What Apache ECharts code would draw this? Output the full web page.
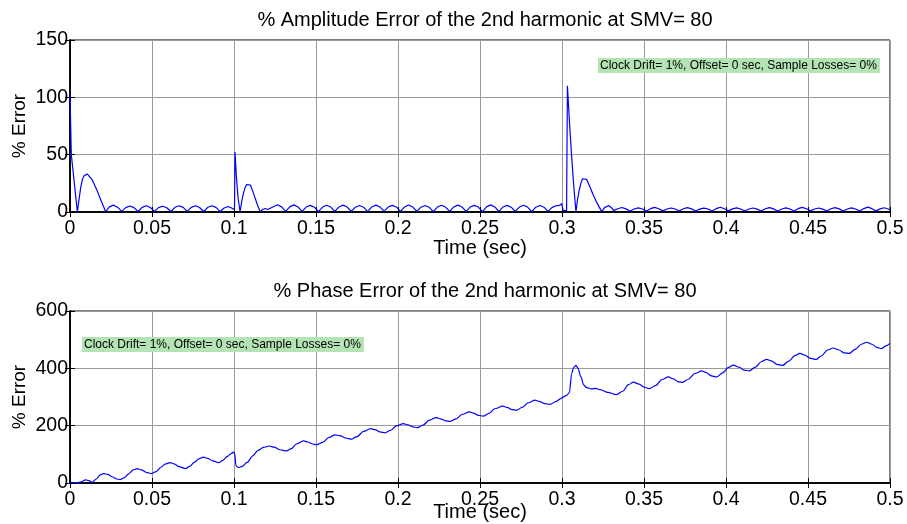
<!DOCTYPE html>
<html>
<head>
<meta charset="utf-8">
<script src="https://cdn.jsdelivr.net/npm/echarts@6/dist/echarts.min.js"></script>
<style>
  html, body { margin: 0; padding: 0; background: #fff; }
  #chart { width: 907px; height: 524px; }
</style>
</head>
<body>
<div id="chart"></div>
<script>
// Time ticks shared by both panels (seconds)
const timeTicks = [0, 0.05, 0.1, 0.15, 0.2, 0.25, 0.3, 0.35, 0.4, 0.45, 0.5];
const ampTicks = [0, 50, 100, 150];
const phaseTicks = [0, 200, 400, 600];

const titles = [
  '% Amplitude Error of the 2nd harmonic at SMV= 80',
  '% Phase Error of the 2nd harmonic at SMV= 80'
];
const xLabel = 'Time (sec)';
const yLabel = '% Error';
const note = 'Clock Drift= 1%, Offset= 0 sec, Sample Losses= 0%';

// % amplitude error of the 2nd harmonic, [time (s), error (%)]
const amplitudeError = [
  [0, 103], [0.0008, 50], [0.0045, 0], [0.0055, 11], [0.0065, 21], [0.0075, 28], [0.0085, 31.5],
  [0.0095, 33], [0.0105, 33.2], [0.0115, 32], [0.0136, 28], [0.0167, 18], [0.0191, 9.3], [0.0218, 0.3],
  [0.0240, 4.5], [0.0264, 6], [0.0290, 4.2], [0.0315, 0.5],
  [0.034, 3.8], [0.0365, 5.2], [0.039, 3.8], [0.0415, 0.4],
  [0.044, 4], [0.0465, 5.4], [0.049, 3.9], [0.0515, 0.5],
  [0.054, 3.8], [0.0565, 5], [0.059, 3.7], [0.0615, 0.4],
  [0.064, 4.1], [0.0665, 5.5], [0.069, 4], [0.0715, 0.5],
  [0.074, 4], [0.0765, 5.4], [0.079, 3.9], [0.0815, 0.4],
  [0.084, 4.1], [0.0865, 5.5], [0.089, 4], [0.0915, 0.5],
  [0.094, 3.5], [0.0965, 4.8], [0.0985, 3.5], [0.0995, 2.2], [0.1003, 2],
  [0.1006, 52.4], [0.1015, 30], [0.1025, 12], [0.1037, 0.2],
  [0.1047, 9], [0.1057, 16], [0.1067, 21], [0.1077, 24], [0.1088, 25.3], [0.1100, 23.5],
  [0.1115, 18], [0.1130, 11.5], [0.1145, 5.5], [0.1159, 0.3],
  [0.1175, 2.2], [0.119, 3], [0.1205, 2.2], [0.1215, 0.6],
  [0.124, 4.6], [0.1265, 6.3], [0.129, 4.5], [0.1315, 0.5],
  [0.134, 4.5], [0.1365, 6.2], [0.139, 4.4], [0.1415, 0.5],
  [0.144, 4.3], [0.1465, 5.8], [0.149, 4.2], [0.1515, 0.4],
  [0.154, 4.3], [0.1565, 5.9], [0.159, 4.3], [0.1615, 0.5],
  [0.164, 4.4], [0.1665, 6], [0.169, 4.3], [0.1715, 0.5],
  [0.174, 4.2], [0.1765, 5.7], [0.179, 4.2], [0.1815, 0.4],
  [0.184, 4.4], [0.1865, 6], [0.189, 4.4], [0.1915, 0.5],
  [0.194, 4.3], [0.1965, 5.8], [0.199, 4.4], [0.2015, 0.5],
  [0.204, 4.4], [0.2065, 6.1], [0.209, 4.3], [0.2115, 0.5],
  [0.214, 4.2], [0.2165, 5.7], [0.219, 4.2], [0.2215, 0.4],
  [0.224, 4.3], [0.2265, 5.9], [0.229, 4.3], [0.2315, 0.5],
  [0.234, 4.4], [0.2365, 6], [0.239, 4.4], [0.2415, 0.5],
  [0.244, 4.3], [0.2465, 5.8], [0.249, 4.3], [0.2515, 0.4],
  [0.254, 4.5], [0.2565, 6.2], [0.259, 4.4], [0.2615, 0.5],
  [0.264, 4.3], [0.2665, 5.8], [0.269, 4.2], [0.2715, 0.5],
  [0.274, 4.3], [0.2765, 5.9], [0.279, 4.3], [0.2815, 0.4],
  [0.284, 4.2], [0.2865, 5.7], [0.289, 4.2], [0.2915, 0.5],
  [0.294, 4], [0.2965, 5.5], [0.2985, 5.8], [0.2998, 7.2], [0.3007, 1.5], [0.3028, 1.2],
  [0.3033, 110], [0.3045, 80], [0.3058, 50], [0.3072, 22], [0.3085, 0.3],
  [0.3095, 11], [0.3105, 19], [0.3115, 25], [0.3125, 29], [0.3136, 30.6], [0.3150, 28.5],
  [0.3170, 22], [0.3190, 15], [0.3215, 7.5], [0.3242, 0.3],
  [0.326, 3.8], [0.3285, 5.6], [0.3305, 3.2], [0.3315, 1.2],
  [0.334, 2.8], [0.3365, 3.9], [0.339, 2.7], [0.3415, 0.9],
  [0.344, 2.6], [0.3465, 3.6], [0.349, 2.6], [0.3515, 0.8],
  [0.354, 2.9], [0.3565, 4], [0.359, 2.8], [0.3615, 1],
  [0.364, 2.6], [0.3665, 3.5], [0.369, 2.6], [0.3715, 0.8],
  [0.374, 2.8], [0.3765, 3.8], [0.379, 2.7], [0.3815, 0.9],
  [0.384, 2.5], [0.3865, 3.4], [0.389, 2.6], [0.3915, 0.8],
  [0.394, 2.9], [0.3965, 4.1], [0.399, 2.8], [0.4015, 1],
  [0.404, 2.7], [0.4065, 3.6], [0.409, 2.6], [0.4115, 0.9],
  [0.414, 2.6], [0.4165, 3.5], [0.419, 2.5], [0.4215, 0.8],
  [0.424, 2.8], [0.4265, 3.8], [0.429, 2.7], [0.4315, 0.9],
  [0.434, 2.6], [0.4365, 3.6], [0.439, 2.6], [0.4415, 0.8],
  [0.444, 2.9], [0.4465, 4], [0.449, 2.8], [0.4515, 1],
  [0.454, 2.6], [0.4565, 3.5], [0.459, 2.5], [0.4615, 0.8],
  [0.464, 2.8], [0.4665, 3.8], [0.469, 2.7], [0.4715, 0.9],
  [0.474, 2.6], [0.4765, 3.6], [0.479, 2.6], [0.4815, 0.8],
  [0.484, 3], [0.4865, 4.2], [0.489, 2.9], [0.4915, 1],
  [0.494, 2.7], [0.4965, 3.7], [0.499, 2.6], [0.5, 1.8]
];

// % phase error of the 2nd harmonic, [time (s), error (%)]
const phaseError = [
  [0, 2], [0.004, 1], [0.007, 4], [0.0095, 11], [0.0115, 8], [0.0135, 2], [0.016, 14],
  [0.0185, 28], [0.0205, 33], [0.023, 30], [0.026, 21], [0.0285, 14], [0.0305, 12],
  [0.033, 18], [0.036, 33], [0.0385, 46], [0.041, 50], [0.0435, 46], [0.0465, 37], [0.0498, 33],
  [0.0525, 40], [0.0555, 55], [0.058, 66], [0.061, 71], [0.0635, 67], [0.0665, 57], [0.0705, 50],
  [0.073, 58], [0.076, 73], [0.0785, 84], [0.0813, 90], [0.084, 86], [0.087, 77], [0.0905, 71],
  [0.093, 78], [0.096, 93], [0.0985, 103], [0.0998, 108], [0.1004, 104], [0.1012, 60], [0.1027, 54],
  [0.105, 58], [0.108, 72], [0.1115, 95], [0.1145, 113], [0.118, 124], [0.1215, 129], [0.1245, 125],
  [0.128, 116], [0.132, 112], [0.135, 120], [0.138, 136], [0.1423, 147], [0.145, 143], [0.148, 136],
  [0.1505, 134], [0.154, 142], [0.158, 159], [0.1616, 168], [0.1645, 165], [0.168, 157], [0.1718, 153],
  [0.175, 162], [0.179, 180], [0.1833, 190], [0.186, 186], [0.189, 178], [0.192, 175], [0.1955, 184],
  [0.199, 199], [0.2033, 207], [0.206, 203], [0.209, 196], [0.2118, 193], [0.2155, 203], [0.219, 219],
  [0.2232, 228], [0.226, 224], [0.229, 217], [0.232, 215], [0.2355, 224], [0.239, 239], [0.2435, 248],
  [0.246, 244], [0.249, 236], [0.252, 233], [0.2555, 243], [0.259, 259], [0.2638, 268], [0.2665, 264],
  [0.2695, 256], [0.2723, 254], [0.276, 265], [0.2795, 280], [0.2835, 289], [0.286, 285], [0.2895, 277],
  [0.2927, 274], [0.2965, 285], [0.3, 297], [0.3028, 306], [0.3045, 315], [0.3059, 382], [0.3072, 404],
  [0.3085, 410], [0.3098, 400], [0.3115, 370], [0.3132, 342], [0.315, 333], [0.318, 328], [0.3205, 330],
  [0.3232, 326], [0.328, 316], [0.333, 308], [0.337, 320], [0.3405, 343], [0.3435, 352], [0.347, 345],
  [0.3503, 334], [0.3533, 329], [0.357, 340], [0.361, 361], [0.3648, 370], [0.368, 363], [0.371, 353],
  [0.3735, 351], [0.377, 362], [0.381, 382], [0.3852, 391], [0.388, 385], [0.391, 374], [0.3943, 370],
  [0.398, 384], [0.4015, 403], [0.4045, 411], [0.408, 404], [0.411, 394], [0.4142, 391], [0.418, 404],
  [0.4215, 423], [0.4248, 431], [0.428, 425], [0.431, 414], [0.4345, 410], [0.438, 424], [0.442, 444],
  [0.4451, 452], [0.448, 446], [0.4515, 435], [0.4549, 431], [0.458, 443], [0.462, 464], [0.4654, 471],
  [0.469, 464], [0.472, 454], [0.4752, 452], [0.479, 467], [0.4825, 484], [0.4858, 491], [0.489, 484],
  [0.492, 473], [0.4949, 469], [0.4975, 478], [0.5, 487]
];

const FONT = 'Liberation Sans, Arial, sans-serif';
const chart = echarts.init(document.getElementById('chart'), null, { renderer: 'canvas' });

const panels = [
  { top: 40, ticks: ampTicks, nameGap: 26, titleTop: 5 },
  { top: 311, ticks: phaseTicks, nameGap: 19, titleTop: 276 }
];
const plotLeft = 70, plotWidth = 820, plotHeight = 172;

function fmtTime(v) {
  return String(parseFloat(v.toFixed(2)));
}

const grids = [], xAxes = [], yAxes = [];
panels.forEach((p, i) => {
  grids.push({
    left: plotLeft, top: p.top, width: plotWidth, height: plotHeight,
    outerBoundsMode: 'none', containLabel: false,
    show: true, borderColor: '#000', borderWidth: 1, backgroundColor: '#fff'
  });
  const yMax = p.ticks[p.ticks.length - 1];
  const yStep = p.ticks[1] - p.ticks[0];
  // bottom time axis with labels and grid lines
  xAxes.push({
    type: 'value', gridIndex: i, min: timeTicks[0], max: timeTicks[timeTicks.length - 1],
    interval: timeTicks[1] - timeTicks[0],
    position: 'bottom',
    name: xLabel, nameLocation: 'middle', nameGap: p.nameGap, nameMoveOverlap: false,
    nameTextStyle: { fontFamily: FONT, fontSize: 20, color: '#000' },
    axisLine: { show: true, lineStyle: { color: '#000', width: 1.5 } },
    axisTick: { show: true, inside: true, length: 5, lineStyle: { color: '#000' } },
    axisLabel: { fontFamily: FONT, fontSize: 19.5, color: '#000', margin: 7, formatter: fmtTime },
    splitLine: { show: true, lineStyle: { color: '#9a9a9a', width: 1 } }
  });
  // top time axis: ticks only
  xAxes.push({
    type: 'value', gridIndex: i, min: timeTicks[0], max: timeTicks[timeTicks.length - 1],
    interval: timeTicks[1] - timeTicks[0],
    position: 'top',
    axisLine: { show: true, lineStyle: { color: '#000', width: 1.5 } },
    axisTick: { show: true, inside: true, length: 5, lineStyle: { color: '#000' } },
    axisLabel: { show: false }, splitLine: { show: false }
  });
  // left error axis with labels and grid lines
  yAxes.push({
    type: 'value', gridIndex: i, min: 0, max: yMax, interval: yStep,
    position: 'left',
    name: yLabel, nameLocation: 'middle', nameGap: 41, nameRotate: 90, nameMoveOverlap: false,
    nameTextStyle: { fontFamily: FONT, fontSize: 19, color: '#000' },
    axisLine: { show: true, lineStyle: { color: '#000', width: 1.5 } },
    axisTick: { show: true, inside: true, length: 5, lineStyle: { color: '#000' } },
    axisLabel: { fontFamily: FONT, fontSize: 19.5, color: '#000', margin: 2 },
    splitLine: { show: true, lineStyle: { color: '#9a9a9a', width: 1 } }
  });
  // right error axis: ticks only
  yAxes.push({
    type: 'value', gridIndex: i, min: 0, max: yMax, interval: yStep,
    position: 'right',
    axisLine: { show: true, lineStyle: { color: '#000', width: 1.5 } },
    axisTick: { show: true, inside: true, length: 5, lineStyle: { color: '#000' } },
    axisLabel: { show: false }, splitLine: { show: false }
  });
});

const lineSeries = (data, idx, smooth) => ({
  type: 'line', data: data,
  xAxisIndex: idx * 2, yAxisIndex: idx * 2,
  showSymbol: false, symbol: 'none',
  smooth: smooth, smoothMonotone: 'x',
  lineStyle: { color: '#0000ff', width: 1.2 },
  clip: true, z: 3
});

const noteBox = (x, y) => ({
  type: 'text', left: x, top: y, z: 10,
  style: {
    text: note, fontFamily: FONT, fontSize: 12, fill: '#000',
    backgroundColor: '#b4e3b4', padding: [2, 3, 1, 2]
  }
});

chart.setOption({
  animation: false,
  backgroundColor: '#fff',
  title: titles.map((t, i) => ({
    text: t, left: 480, top: panels[i].titleTop, textAlign: 'center',
    textStyle: { fontFamily: FONT, fontSize: 20, fontWeight: 'normal', color: '#000' }
  })),
  grid: grids,
  xAxis: xAxes,
  yAxis: yAxes,
  series: [
    lineSeries(amplitudeError, 0, false),
    lineSeries(phaseError, 1, 0.3)
  ],
  graphic: [noteBox(598, 58), noteBox(82, 337)]
});
</script>
</body>
</html>
